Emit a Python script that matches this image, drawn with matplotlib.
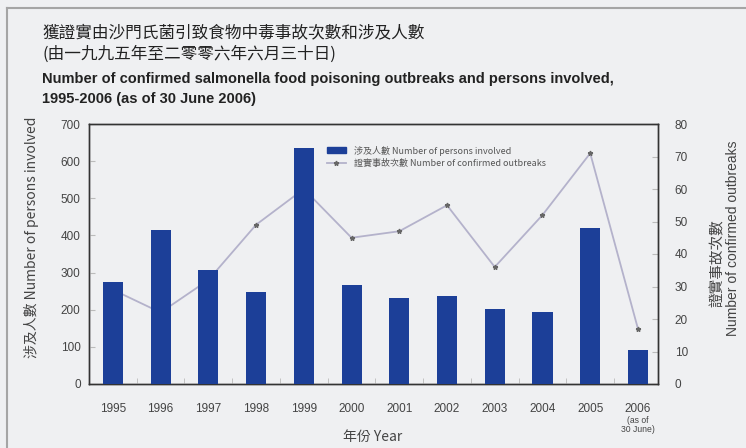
import matplotlib.pyplot as plt
import matplotlib.transforms as mtransforms
from matplotlib.lines import Line2D
from matplotlib.patches import Patch
import numpy as np

years = ["1995", "1996", "1997", "1998", "1999", "2000",
         "2001", "2002", "2003", "2004", "2005", "2006"]
persons = [274, 414, 307, 247, 636, 267, 231, 237, 202, 193, 421, 91]
outbreaks = [29, 22, 32, 49, 60, 45, 47, 55, 36, 52, 71, 17]

BG = "#eff0f2"
BAR = "#1c3f98"
LINE = "#b4b2cb"
TXT = "#444444"
W, H = 746, 448

plt.rcParams["font.family"] = ["Liberation Sans", "Noto Sans CJK TC"]
CJK = ["Noto Sans CJK TC", "Liberation Sans"]


def fx(px):
    return px / W


def fy(py):
    return 1 - py / H


fig = plt.figure(figsize=(W / 100, H / 100), dpi=100, facecolor=BG)

# page frame (top and left edges only)
fig.add_artist(Line2D([fx(7), 1], [fy(8), fy(8)], color="#a5a5a5", lw=1.5))
fig.add_artist(Line2D([fx(7), fx(7)], [0, fy(8)], color="#a5a5a5", lw=1.5))

ax = fig.add_axes([fx(89), fy(384), (658 - 89) / W, (384 - 124) / H])
ax2 = ax.twinx()
ax.set_zorder(ax2.get_zorder() + 1)
ax.patch.set_visible(False)
ax2.patch.set_facecolor("white")

x = np.arange(len(years))
ax2.plot(x, outbreaks, color=LINE, lw=1.3, marker="*", ms=3.5,
         mfc="#666666", mec="#666666", zorder=2)
ax.bar(x, persons, width=0.42, color=BAR, zorder=3)

ax.set_xlim(-0.5, 11.42)
ax.set_ylim(0, 700)
ax2.set_ylim(0, 80)
ax.set_yticks(range(0, 701, 100))
ax2.set_yticks(range(0, 81, 10))
ax.set_xticks(x)
ax.set_xticklabels(years)
ax.set_xticks(x[:-1] + 0.5, minor=True)

for a in (ax, ax2):
    for s in a.spines.values():
        s.set_color("#333333")
        s.set_linewidth(1.0)

ax.tick_params(axis="x", which="major", length=0, pad=14, labelsize=8.5,
               labelcolor=TXT)
ax.tick_params(axis="x", which="minor", direction="in", length=4,
               color="#bbbbbb")
ax.tick_params(axis="y", direction="in", length=4, color="#bbbbbb", pad=6,
               labelsize=8.5, labelcolor=TXT)
ax2.tick_params(axis="y", direction="in", length=4, color="#bbbbbb", pad=12,
                labelsize=8.5, labelcolor=TXT)

# legend
handles = [Patch(facecolor=BAR, edgecolor=BAR),
           Line2D([], [], color=LINE, lw=1.3, marker="*", ms=3.5,
                  mfc="#666666", mec="#666666")]
labels = ["涉及人數 Number of persons involved",
          "證實事故次數 Number of confirmed outbreaks"]
ax.legend(handles, labels, loc="upper left",
          bbox_to_anchor=(fx(322), fy(141)), bbox_transform=fig.transFigure,
          frameon=False, prop={"family": CJK, "size": 6.5}, labelcolor="#555555",
          handlelength=2.2, handleheight=0.6, labelspacing=0.35,
          handletextpad=0.8, borderpad=0)

# note under 2006
trans = mtransforms.blended_transform_factory(ax.transData, fig.transFigure)
ax.text(11, fy(425), "(as of\n30 June)", transform=trans, ha="center",
        va="center", fontsize=6.2, color=TXT, linespacing=1.0)

# axis titles
fig.text(fx(373), fy(437), "年份 Year", ha="center", va="center",
         fontsize=10, color=TXT, family=CJK)
fig.text(fx(32), fy(237), "涉及人數 Number of persons involved", rotation=90,
         ha="center", va="center", fontsize=10, color=TXT, family=CJK)
fig.text(fx(718), fy(263), "證實事故次數", rotation=90, ha="center",
         va="center", fontsize=10.5, color=TXT, family=CJK)
fig.text(fx(733), fy(238), "Number of confirmed outbreaks", rotation=90,
         ha="center", va="center", fontsize=10, color=TXT)

# titles
fig.text(fx(42), fy(33), "獲證實由沙門氏菌引致食物中毒事故次數和涉及人數",
         ha="left", va="center", fontsize=12, color="#222222", family=CJK)
fig.text(fx(42), fy(54), "(由一九九五年至二零零六年六月三十日)",
         ha="left", va="center", fontsize=12, color="#222222", family=CJK)
fig.text(fx(42), fy(79),
         "Number of confirmed salmonella food poisoning outbreaks and persons involved,",
         ha="left", va="center", fontsize=10.5, fontweight="bold",
         color="#222222")
fig.text(fx(42), fy(99), "1995-2006 (as of 30 June 2006)",
         ha="left", va="center", fontsize=10.5, fontweight="bold",
         color="#222222")

fig.savefig("out.png", dpi=100, facecolor=BG)
